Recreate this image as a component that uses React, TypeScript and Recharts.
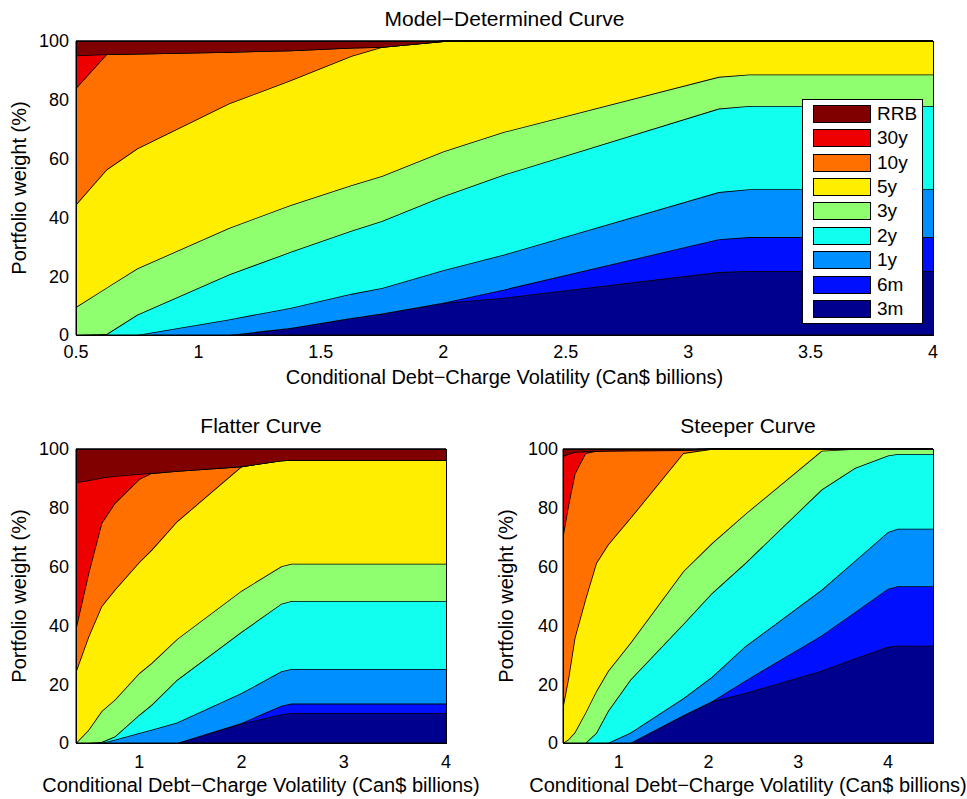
import { Area, AreaChart, Legend, XAxis, YAxis } from "recharts";

const FONT = '"Liberation Sans", Arial, Helvetica, sans-serif';

// stacking order, bottom to top
const MATURITIES = ["3m", "6m", "1y", "2y", "3y", "5y", "10y", "30y", "RRB"];
const COLORS = ["#00008f", "#0010ff", "#008fff", "#10ffee", "#8fff70", "#ffee00", "#ff7000", "#ee0000", "#800000"];

const Y_TICKS = [0, 20, 40, 60, 80, 100];
const MODEL_X_TICKS = [0.5, 1, 1.5, 2, 2.5, 3, 3.5, 4];
const SIDE_X_TICKS = [1, 2, 3, 4];

const X_LABEL = "Conditional Debt\u2212Charge Volatility (Can$ billions)";
const Y_LABEL = "Portfolio weight (%)";

// Model-Determined Curve (weights in %)
const modelX = [0.5, 0.625, 0.75, 1.125, 1.375, 1.625, 1.75, 2, 2.25, 3.125, 3.25, 4];
const model3m = [0, 0, 0, 0, 2.4, 5.8, 7.3, 10.9, 12.7, 21.4, 21.8, 21.8];
const model6m = [0, 0, 0, 0, 0, 0, 0, 0.1, 2.8, 11.2, 11.5, 11.5];
const model1y = [0, 0, 0, 5.3, 6.8, 8.2, 8.7, 11.0, 11.9, 16.0, 16.3, 16.3];
const model2y = [0, 0.3, 6.9, 15.3, 19.0, 21.5, 22.8, 25.2, 27.2, 28.4, 28.3, 28.3];
const model3y = [9.5, 15.8, 15.7, 15.8, 15.9, 15.4, 15.3, 15.2, 14.5, 10.8, 10.7, 10.7];
const model5y = [34.9, 40.2, 40.8, 42.3, 42.5, 44.0, 43.9, 37.5, 30.9, 12.2, 11.4, 11.4];
const model10y = [39.6, 39.2, 32.3, 17.6, 10.2, 2.8, 0, 0, 0, 0, 0, 0];
const model30y = [11.1, 0, 0, 0, 0, 0, 0, 0, 0, 0, 0, 0];
const modelRRB = [4.9, 4.5, 4.3, 3.7, 3.2, 2.3, 2.0, 0.1, 0, 0, 0, 0];

// Flatter Curve
const flatX = [0.38, 0.5, 0.63, 0.76, 1.0, 1.12, 1.37, 2.0, 2.39, 2.49, 4];
const flat3m = [0, 0, 0, 0, 0, 0, 0, 6.6, 9.8, 10.2, 10.2];
const flat6m = [0, 0, 0, 0, 0, 0, 0, 0.2, 2.9, 3.2, 3.2];
const flat1y = [0, 0, 0, 1.1, 3.4, 4.5, 7.0, 10.2, 11.7, 11.8, 11.8];
const flat2y = [0, 0, 0.3, 1.1, 6.2, 8.5, 14.5, 20.8, 23.0, 23.1, 23.1];
const flat3y = [0, 4.3, 10.5, 12.5, 14.2, 14.2, 13.9, 14.0, 12.7, 12.7, 12.7];
const flat5y = [24.4, 31.7, 35.7, 37.4, 37.8, 38.5, 40.0, 42.3, 36.0, 35.3, 35.3];
const flat10y = [14.8, 21.5, 28.3, 29.5, 28.2, 26.1, 17.1, 0, 0, 0, 0];
const flat30y = [49.5, 31.8, 15.4, 9.2, 1.7, 0, 0, 0, 0, 0, 0];
const flatRRB = [11.3, 10.7, 9.8, 9.2, 8.5, 8.2, 7.5, 5.9, 3.9, 3.7, 3.7];

// Steeper Curve
const steepX = [0.38, 0.44, 0.51, 0.63, 0.75, 0.88, 1.13, 1.72, 2.04, 2.41, 3.26, 3.63, 4.0, 4.11, 4.5];
const steep3m = [0, 0, 0, 0, 0, 0, 0, 9.4, 14.2, 17.0, 24.6, 28.7, 32.7, 33.1, 33.1];
const steep6m = [0, 0, 0, 0, 0, 0, 0, 0, 0, 4.2, 12.0, 15.8, 19.8, 20.2, 20.2];
const steep1y = [0, 0, 0, 0, 0, 0, 3.5, 5.8, 8.3, 11.7, 15.5, 17.4, 19.3, 19.6, 19.6];
const steep2y = [0, 0, 0, 0, 3.4, 10.8, 18.0, 25.3, 28.5, 28.3, 34.1, 31.6, 26.0, 25.4, 25.4];
const steep3y = [0, 1.2, 3.6, 10.3, 14.2, 13.6, 12.5, 17.9, 17.0, 16.7, 13.2, 6.5, 2.2, 1.7, 1.7];
const steep5y = [12.5, 20.9, 32.1, 38.7, 43.6, 43.0, 42.5, 40.2, 32.0, 22.1, 0.6, 0, 0, 0, 0];
const steep10y = [58.0, 58.9, 55.8, 49.6, 38.1, 32.0, 23.0, 1.0, 0, 0, 0, 0, 0, 0, 0];
const steep30y = [27.0, 17.3, 7.5, 0.6, 0, 0, 0, 0, 0, 0, 0, 0, 0, 0, 0];
const steepRRB = [2.5, 1.7, 1.0, 0.8, 0.7, 0.6, 0.5, 0.4, 0, 0, 0, 0, 0, 0, 0];

function buildRows(x: number[], series: number[][]) {
  return x.map((v, i) => {
    const row: Record<string, number> = { v };
    MATURITIES.forEach((m, k) => {
      row[m] = series[k][i];
    });
    return row;
  });
}

const modelRows = buildRows(modelX, [model3m, model6m, model1y, model2y, model3y, model5y, model10y, model30y, modelRRB]);
const flatRows = buildRows(flatX, [flat3m, flat6m, flat1y, flat2y, flat3y, flat5y, flat10y, flat30y, flatRRB]);
const steepRows = buildRows(steepX, [steep3m, steep6m, steep1y, steep2y, steep3y, steep5y, steep10y, steep30y, steepRRB]);

function WeightLegend() {
  return (
    <div
      style={{
        position: "relative",
        width: 121,
        height: 225,
        background: "#fff",
        border: "1px solid #000",
        boxSizing: "border-box",
        fontFamily: FONT,
      }}
    >
      {[...MATURITIES].reverse().map((m, i) => (
        <div
          key={m}
          style={{ position: "absolute", left: 10, top: 4.7 + i * 24.4, height: 18, display: "flex", alignItems: "center" }}
        >
          <span
            style={{
              display: "inline-block",
              width: 58,
              height: 18,
              background: COLORS[MATURITIES.indexOf(m)],
              border: "1px solid #000",
              boxSizing: "border-box",
            }}
          />
          <span style={{ marginLeft: 6, fontSize: 19, lineHeight: "18px", color: "#000" }}>{m}</span>
        </div>
      ))}
    </div>
  );
}

type ChartProps = {
  rows: Record<string, number>[];
  width: number;
  height: number;
  top: number;
  yAxisWidth: number;
  xAxisHeight: number;
  domain: [number, number];
  xTicks: number[];
  xTickMargin: number;
  yTickMargin: number;
  xLabelOffset: number;
  yLabelOffset: number;
  showLegend?: boolean;
};

function WeightChart(p: ChartProps) {
  const tickStyle = { fill: "#000", fontSize: 18, fontFamily: FONT };
  return (
    <AreaChart width={p.width} height={p.height} data={p.rows} margin={{ top: p.top, right: 34, bottom: 0, left: 0 }}>
      {MATURITIES.map((m, k) => (
        <Area
          key={m}
          type="linear"
          dataKey={m}
          name={m}
          stackId="w"
          stroke="#000"
          strokeWidth={1.6}
          fill={COLORS[k]}
          fillOpacity={1}
          dot={false}
          activeDot={false}
          isAnimationActive={false}
        />
      ))}
      <XAxis
        dataKey="v"
        type="number"
        domain={p.domain}
        ticks={p.xTicks}
        interval={0}
        allowDataOverflow
        height={p.xAxisHeight}
        tickSize={0}
        tickMargin={p.xTickMargin}
        tick={tickStyle}
        axisLine={{ stroke: "#000" }}
        label={{ value: X_LABEL, position: "insideBottom", offset: p.xLabelOffset, fill: "#000", fontSize: 20, fontFamily: FONT }}
      />
      <YAxis
        type="number"
        domain={[0, 100]}
        ticks={Y_TICKS}
        interval={0}
        width={p.yAxisWidth}
        tickSize={0}
        tickMargin={p.yTickMargin}
        tick={tickStyle}
        axisLine={{ stroke: "#000" }}
        label={{
          value: Y_LABEL,
          angle: -90,
          position: "insideLeft",
          offset: p.yLabelOffset,
          fill: "#000",
          fontSize: 20,
          fontFamily: FONT,
          style: { textAnchor: "middle" },
        }}
      />
      {p.showLegend && (
        <Legend
          layout="vertical"
          align="center"
          verticalAlign="middle"
          content={() => <WeightLegend />}
          wrapperStyle={{ left: 802, top: 99, width: 121, height: 225 }}
        />
      )}
    </AreaChart>
  );
}

const titleStyle = {
  position: "absolute" as const,
  fontSize: 21,
  lineHeight: "21px",
  textAlign: "center" as const,
  color: "#000",
  fontFamily: FONT,
};

// black box round each plot area
function Frame({ left, top, width, height }: { left: number; top: number; width: number; height: number }) {
  return (
    <div
      style={{
        position: "absolute",
        left,
        top,
        width,
        height,
        border: "1px solid #000",
        boxSizing: "border-box",
        pointerEvents: "none",
      }}
    />
  );
}

export default function App() {
  return (
    <div style={{ position: "absolute", left: 0, top: 0, width: 967, height: 799, background: "#fff", fontFamily: FONT }}>
      <div style={{ ...titleStyle, left: 76, top: 8, width: 857 }}>Model{"\u2212"}Determined Curve</div>
      <div style={{ ...titleStyle, left: 76, top: 415, width: 370 }}>Flatter Curve</div>
      <div style={{ ...titleStyle, left: 563, top: 415, width: 370 }}>Steeper Curve</div>

      <div style={{ position: "absolute", left: 0, top: 0 }}>
        <WeightChart
          rows={modelRows}
          width={967}
          height={400}
          top={41}
          yAxisWidth={76}
          xAxisHeight={65}
          domain={[0.5, 4]}
          xTicks={MODEL_X_TICKS}
          xTickMargin={10}
          yTickMargin={7}
          xLabelOffset={16}
          yLabelOffset={19}
          showLegend
        />
      </div>
      <div style={{ position: "absolute", left: 0, top: 400 }}>
        <WeightChart
          rows={flatRows}
          width={480}
          height={399}
          top={49}
          yAxisWidth={76}
          xAxisHeight={56}
          domain={[0.38, 4]}
          xTicks={SIDE_X_TICKS}
          xTickMargin={12}
          yTickMargin={7}
          xLabelOffset={7}
          yLabelOffset={19}
        />
      </div>
      <div style={{ position: "absolute", left: 480, top: 400 }}>
        <WeightChart
          rows={steepRows}
          width={487}
          height={399}
          top={49}
          yAxisWidth={83}
          xAxisHeight={56}
          domain={[0.38, 4.5]}
          xTicks={SIDE_X_TICKS}
          xTickMargin={12}
          yTickMargin={5}
          xLabelOffset={7}
          yLabelOffset={26}
        />
      </div>

      <Frame left={75.5} top={40.5} width={858} height={295} />
      <Frame left={75.5} top={448.5} width={371} height={295} />
      <Frame left={562.5} top={448.5} width={371} height={295} />
    </div>
  );
}
